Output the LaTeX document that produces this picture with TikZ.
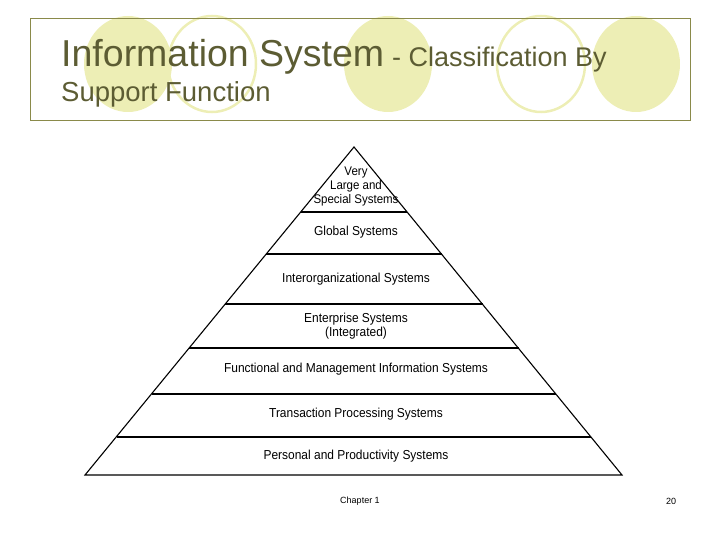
\documentclass[tikz,border=0pt]{standalone}
\usepackage{fontspec}
\setmainfont{Liberation Sans}
\begin{document}
\begin{tikzpicture}[x=1pt,y=-1pt,
  lbl/.style={font=\fontsize{13}{14}\selectfont, xscale=0.92, align=center, inner sep=0pt},
  fillc/.style={fill=yellowc, draw=none},
  ringc/.style={draw=yellowc, line width=2.5pt},
  ttl/.style={text=titlec, anchor=base west, inner sep=0pt}]
\definecolor{yellowc}{HTML}{EDEEB5}
\definecolor{titlec}{HTML}{5C5C33}
\definecolor{framec}{HTML}{8A8A4A}
\useasboundingbox (0,0) rectangle (720,540);
% header circles
\fill[fillc] (128,64) ellipse (44 and 48);
\draw[ringc] (212,64) ellipse (44 and 48);
\fill[fillc] (388,64) ellipse (44 and 48);
\draw[ringc] (541,64) ellipse (44 and 48);
\fill[fillc] (636,64) ellipse (44 and 48);
\draw[framec, line width=0.8pt] (30,18) rectangle (690,120);
\node[ttl, font=\fontsize{37.5}{40}\selectfont] (t1) at (61,67) {Information System};
\node[ttl, font=\fontsize{27}{29}\selectfont] (t2) at (t1.base east) {\ - Classification By};
\node[ttl, font=\fontsize{27.5}{29}\selectfont] (t3) at (61,102) {Support Function};
% pyramid
\coordinate (A) at (354,147);
\coordinate (L) at (85,475);
\coordinate (R) at (622,475);
\draw[line width=1.1pt, line join=miter] (A) -- (L) -- (R) -- cycle;
\foreach \y/\n in {212/a,254/b,304/c,348/d,394/e,437/f}{
  \pgfmathsetmacro{\w}{(\y-147)/328*268.5}
  \coordinate (\n l) at (354-\w,\y);
  \coordinate (\n r) at (354+\w,\y);
  \draw[line width=1.3pt] (\n l) -- (\n r);
}
\node[lbl, font=\fontsize{12.5}{14}\selectfont] (p1) at (356,186) {Very\\Large and\\Special Systems};
\node[lbl] (p2) at (356,232) {Global Systems};
\node[lbl] (p3) at (356,279) {Interorganizational Systems};
\node[lbl] (p4) at (356,326) {Enterprise Systems\\(Integrated)};
\node[lbl] (p5) at (356,369) {Functional and Management Information Systems};
\node[lbl] (p6) at (356,414) {Transaction Processing Systems};
\node[lbl] (p7) at (356,456) {Personal and Productivity Systems};
% footer
\node[font=\fontsize{9}{10}\selectfont, inner sep=0pt] (ch) at (360,501) {Chapter 1};
\node[font=\fontsize{9}{10}\selectfont, inner sep=0pt] (pg) at (671,501) {20};
\end{tikzpicture}
\end{document}
